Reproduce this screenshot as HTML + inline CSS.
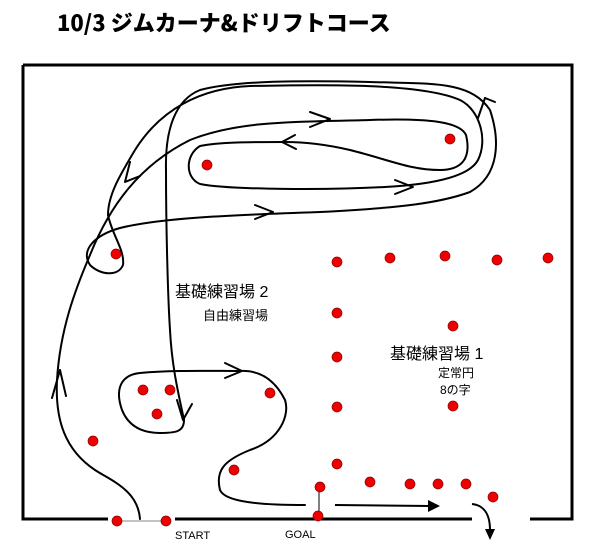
<!DOCTYPE html>
<html><head><meta charset="utf-8"><style>
html,body{margin:0;padding:0;background:#fff;}
body{width:600px;height:560px;position:relative;overflow:hidden;font-family:"Liberation Sans","Noto Sans CJK JP",sans-serif;}
svg{position:absolute;left:0;top:0;}
</style></head><body>
<svg width="600" height="560" viewBox="0 0 600 560" xmlns="http://www.w3.org/2000/svg">
<text x="57" y="31" font-family="'Noto Sans CJK JP','Liberation Sans',sans-serif" font-weight="900" font-size="22" fill="#000">10/3 ジムカーナ&amp;ドリフトコース</text>
<g stroke="#000" stroke-width="3" fill="none">
<path d="M23 65 H572 V519 H530"/>
<path d="M472 519 H175"/>
<path d="M108 519 H23 V65"/>
</g>
<line x1="117" y1="521" x2="166" y2="521" stroke="#888" stroke-width="1"/>
<line x1="319" y1="487" x2="319" y2="516" stroke="#000" stroke-width="1"/>
<g stroke="#000" stroke-width="2" fill="none" stroke-linecap="round" stroke-linejoin="round">
<path d="M140 519 C138 490 110 480 95 470 C65 450 55 420 57 380 C60 330 75 290 90 255 C110 205 140 165 190 140 C240 120 300 122 370 120 C430 118 460 122 466 135 C472 160 460 170 440 170 C410 170 390 160 350 150 C320 143 300 142 285 142"/>
<path d="M295 135 L282 142 L296 149"/>
<path d="M285 142 C250 142 220 142 200 146 C185 155 185 178 200 184 C230 190 330 190 385 187 C440 184 470 175 478 160 C488 140 480 110 460 100 C420 82 310 85 250 86 C200 88 160 110 135 150 C120 175 108 195 108 215 C112 235 125 250 123 265 C118 277 100 275 90 265 C80 250 95 235 120 228 C160 218 230 215 320 212 C400 208 440 203 470 192 C500 175 500 140 490 110 C470 80 430 84 370 82 C280 80 230 82 200 90 C175 100 165 130 166 170 C166 230 168 300 170 330 C172 370 180 400 184 420"/>
<path d="M310 112 L330 119 L310 127"/>
<path d="M395 180 L413 187 L395 194"/>
<path d="M255 205 L273 212 L255 219"/>
<path d="M485 98 L478 118"/><path d="M485 98 L495 102"/>
<path d="M130 162 L125 182 L140 176"/>
<path d="M183 420 L177 400"/><path d="M183 420 L192 404"/>
<path d="M184 420 C184 432 175 433 160 433 C140 433 128 425 122 410 C115 390 120 375 140 373 C170 370 210 371 240 371 C260 370 275 380 285 400 C290 415 280 440 250 450 C225 460 215 470 220 490 C225 502 260 505 305 505"/>
<path d="M225 363 L242 371 L225 378"/>
<path d="M60 370 L52 398"/><path d="M60 370 L66 396"/>
</g>
<g stroke="#000" stroke-width="2" fill="none">
<path d="M335 505 L430 506"/>
<path d="M472 504 C482 505 490 512 490 530"/>
</g>
<polygon points="428,500 440,506 428,512" fill="#000"/>
<polygon points="485,529 495,529 490,540" fill="#000"/>
<g fill="#e00" stroke="#800" stroke-width="0.7">
<circle cx="450" cy="139" r="5"/><circle cx="207" cy="165" r="5"/><circle cx="116" cy="254" r="5"/>
<circle cx="337" cy="262" r="5"/><circle cx="390" cy="258" r="5"/><circle cx="445" cy="256" r="5"/><circle cx="497" cy="260" r="5"/><circle cx="548" cy="258" r="5"/>
<circle cx="337" cy="313" r="5"/><circle cx="453" cy="326" r="5"/><circle cx="337" cy="357" r="5"/><circle cx="337" cy="407" r="5"/><circle cx="453" cy="406" r="5"/>
<circle cx="337" cy="464" r="5"/><circle cx="320" cy="487" r="5"/><circle cx="370" cy="482" r="5"/><circle cx="410" cy="484" r="5"/><circle cx="438" cy="484" r="5"/><circle cx="466" cy="484" r="5"/><circle cx="493" cy="497" r="5"/>
<circle cx="318" cy="516" r="5"/><circle cx="117" cy="521" r="5"/><circle cx="166" cy="521" r="5"/>
<circle cx="143" cy="390" r="5"/><circle cx="170" cy="390" r="5"/><circle cx="157" cy="414" r="5"/><circle cx="270" cy="393" r="5"/><circle cx="93" cy="441" r="5"/><circle cx="234" cy="470" r="5"/>
</g>
<g font-family="'Liberation Sans','Noto Sans CJK JP',sans-serif" fill="#000">
<text x="175" y="297" font-size="16">基礎練習場 2</text>
<text x="203" y="320" font-size="13">自由練習場</text>
<text x="390" y="359" font-size="16">基礎練習場 1</text>
<text x="438" y="377" font-size="12">定常円</text>
<text x="440" y="394" font-size="12">8の字</text>
<text x="175" y="539" font-size="11">START</text>
<text x="285" y="538" font-size="11">GOAL</text>
</g>
</svg>
</body></html>
